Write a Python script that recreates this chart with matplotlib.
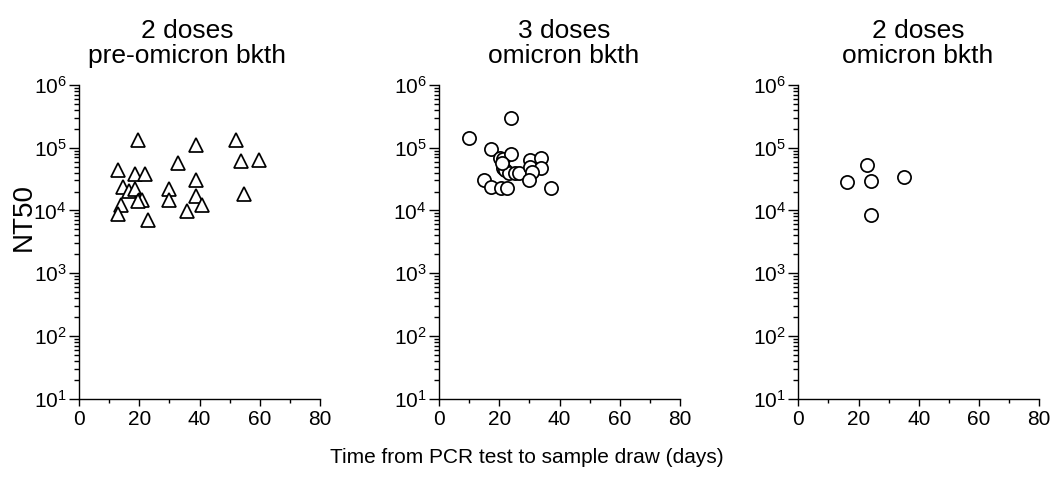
import matplotlib
matplotlib.use("Agg")
import matplotlib.pyplot as plt
from matplotlib.ticker import LogLocator, MultipleLocator, NullFormatter

plt.rcParams['font.family'] = ['Liberation Sans', 'DejaVu Sans']
plt.rcParams['mathtext.fontset'] = 'custom'
plt.rcParams['mathtext.rm'] = 'Liberation Sans'
plt.rcParams['mathtext.it'] = 'Liberation Sans'
plt.rcParams['mathtext.bf'] = 'Liberation Sans'

titles = ["2 doses\npre-omicron bkth", "3 doses\nomicron bkth", "2 doses\nomicron bkth"]
xlabel = "Time from PCR test to sample draw (days)"
ylabel = "NT50"

# Panel 1: 2 doses, pre-omicron breakthrough (triangles)
p1_days = [19.7, 38.8, 52.0, 12.8, 32.8, 53.8, 59.9, 18.6, 21.9, 14.5, 16.7, 18.6,
           29.9, 38.8, 20.0, 20.8, 29.9, 38.8, 40.9, 54.9, 13.8, 12.8, 35.7, 22.8, 19.5]
p1_nt50 = [132000, 110000, 132000, 43800, 57400, 61000, 63400, 37900, 37900, 23200,
           20300, 21600, 21600, 31100, 14900, 14600, 14600, 16900, 12100, 18100, 12100,
           8900, 9800, 7000, 14000]

# Panel 2: 3 doses, omicron breakthrough (circles)
p2_days = [10.0, 24.0, 17.2, 20.3, 21.2, 24.0, 30.1, 34.0, 21.4, 22.0, 23.3, 25.3,
           26.5, 30.1, 34.0, 30.9, 30.0, 14.8, 17.3, 20.7, 22.6, 37.3, 21.0]
p2_nt50 = [144000, 300000, 97000, 69000, 66000, 79000, 63000, 69000, 47800, 44000,
           38900, 39000, 40000, 49500, 47900, 41000, 30300, 30000, 23700, 22900, 22900,
           22400, 56000]

# Panel 3: 2 doses, omicron breakthrough (circles)
p3_days = [22.9, 16.1, 24.0, 35.1, 24.0]
p3_nt50 = [52700, 27900, 29600, 33500, 8600]

panels = [(p1_days, p1_nt50, '^'), (p2_days, p2_nt50, 'o'), (p3_days, p3_nt50, 'o')]

W, H = 1055, 482
fig = plt.figure(figsize=(W / 100, H / 100), dpi=100)
lefts = [79, 439, 798.3]
title_x = [0.448, 0.518, 0.497]
ax_w = 241
ax_top, ax_bot = 85, 398.5

for i, (days, vals, mk) in enumerate(panels):
    ax = fig.add_axes([lefts[i] / W, 1 - ax_bot / H, ax_w / W, (ax_bot - ax_top) / H])
    ax.plot(days, vals, linestyle='none', marker=mk, markersize=9.5,
            markerfacecolor='white', markeredgecolor='black', markeredgewidth=1.25,
            clip_on=False)
    ax.set_yscale('log')
    ax.set_xlim(0, 80)
    ax.set_ylim(10, 1e6)
    ax.xaxis.set_major_locator(MultipleLocator(20))
    ax.xaxis.set_minor_locator(MultipleLocator(10))
    ax.yaxis.set_major_locator(LogLocator(base=10, numticks=10))
    ax.yaxis.set_minor_locator(LogLocator(base=10, subs=range(2, 10), numticks=20))
    ax.yaxis.set_minor_formatter(NullFormatter())
    for s in ['top', 'right']:
        ax.spines[s].set_visible(False)
    for s in ['left', 'bottom']:
        ax.spines[s].set_linewidth(1.0)
    ax.tick_params(which='both', direction='out', width=1.0, labelsize=15)
    ax.tick_params(axis='x', which='major', length=5, pad=3)
    ax.tick_params(axis='x', which='minor', length=3)
    ax.tick_params(axis='y', which='major', length=7, pad=2)
    ax.tick_params(axis='y', which='minor', length=3.5)
    ax.set_title(titles[i], fontsize=19, pad=16, linespacing=1.05, x=title_x[i])

fig.text(24 / W, 1 - 217 / H, ylabel, rotation=90, ha='center', va='center', fontsize=20)
fig.text(527 / W, 1 - 463 / H, xlabel, ha='center', va='baseline', fontsize=15)

fig.savefig('out.png', dpi=100)
